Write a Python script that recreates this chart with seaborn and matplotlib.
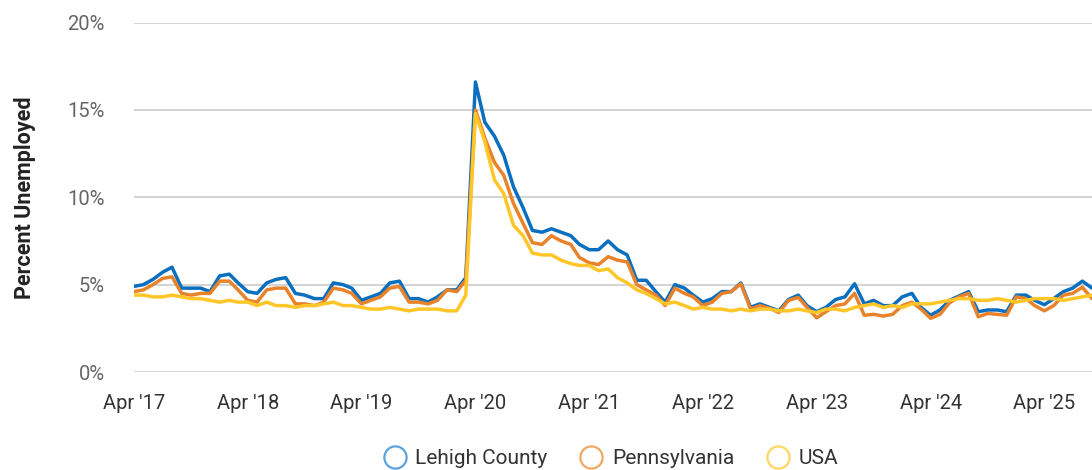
import pandas as pd
import matplotlib
matplotlib.use('Agg')
import matplotlib.pyplot as plt
import matplotlib.dates as mdates
from matplotlib.lines import Line2D
import seaborn as sns

# Monthly unemployment rate (%), Apr 2017 - Sep 2025
months = pd.date_range('2017-04-01', '2025-09-01', freq='MS')

lehigh = [
    4.9, 5.0, 5.3, 5.7, 6.0, 4.8, 4.8, 4.8, 4.6,
    5.5, 5.6, 5.1, 4.6, 4.5, 5.1, 5.3, 5.4, 4.5, 4.4, 4.2, 4.2,
    5.1, 5.0, 4.8, 4.1, 4.3, 4.5, 5.1, 5.2, 4.2, 4.2, 4.0, 4.3,
    4.7, 4.7, 5.4, 16.6, 14.3, 13.5, 12.4, 10.6, 9.4, 8.1, 8.0, 8.2,
    8.0, 7.8, 7.3, 7.0, 7.0, 7.5, 7.0, 6.7, 5.25, 5.25, 4.6, 4.0,
    5.0, 4.8, 4.4, 4.0, 4.2, 4.6, 4.6, 5.1, 3.7, 3.9, 3.7, 3.5,
    4.15, 4.4, 3.8, 3.45, 3.7, 4.15, 4.3, 5.05, 3.9, 4.1, 3.8, 3.8,
    4.3, 4.5, 3.7, 3.25, 3.55, 4.1, 4.35, 4.6, 3.45, 3.55, 3.55, 3.45,
    4.4, 4.4, 4.1, 3.85, 4.2, 4.6, 4.8, 5.2, 4.8,
]

pennsylvania = [
    4.6, 4.7, 5.0, 5.35, 5.45, 4.5, 4.4, 4.5, 4.5,
    5.2, 5.2, 4.7, 4.1, 4.0, 4.7, 4.8, 4.8, 3.9, 3.9, 3.8, 4.0,
    4.8, 4.7, 4.5, 3.9, 4.1, 4.3, 4.8, 4.9, 4.0, 4.0, 3.9, 4.1,
    4.7, 4.6, 5.25, 15.0, 13.4, 12.0, 11.25, 9.65, 8.5, 7.4, 7.3, 7.8,
    7.5, 7.3, 6.55, 6.25, 6.15, 6.6, 6.4, 6.3, 5.0, 4.7, 4.4, 3.8,
    4.8, 4.5, 4.3, 3.8, 4.0, 4.5, 4.6, 5.05, 3.6, 3.8, 3.65, 3.4,
    4.1, 4.27, 3.7, 3.1, 3.45, 3.8, 3.9, 4.5, 3.25, 3.3, 3.2, 3.3,
    3.8, 4.0, 3.6, 3.07, 3.3, 3.96, 4.3, 4.5, 3.16, 3.35, 3.3, 3.25,
    4.3, 4.2, 3.8, 3.5, 3.8, 4.4, 4.5, 4.85, 4.2,
]

usa = [
    4.4, 4.4, 4.3, 4.3, 4.4, 4.3, 4.2, 4.2, 4.1,
    4.0, 4.1, 4.0, 4.0, 3.8, 4.0, 3.8, 3.8, 3.7, 3.8, 3.8, 3.9,
    4.0, 3.8, 3.8, 3.7, 3.6, 3.6, 3.7, 3.6, 3.5, 3.6, 3.6, 3.6,
    3.5, 3.5, 4.4, 14.8, 13.2, 11.0, 10.2, 8.4, 7.8, 6.8, 6.7, 6.7,
    6.4, 6.2, 6.1, 6.1, 5.8, 5.9, 5.4, 5.1, 4.7, 4.5, 4.2, 3.9,
    4.0, 3.8, 3.6, 3.7, 3.6, 3.6, 3.5, 3.6, 3.5, 3.6, 3.6, 3.5,
    3.5, 3.6, 3.5, 3.4, 3.6, 3.6, 3.5, 3.7, 3.8, 3.9, 3.7, 3.8,
    3.7, 3.9, 3.9, 3.9, 4.0, 4.1, 4.2, 4.2, 4.1, 4.1, 4.2, 4.1,
    4.0, 4.1, 4.2, 4.2, 4.2, 4.1, 4.2, 4.3, 4.4,
]

series_names = ['Lehigh County', 'Pennsylvania', 'USA']
line_colors = ['#0a6fbe', '#e8832b', '#ffc629']
legend_colors = ['#5aa3dd', '#f0a865', '#ffd760']

df = pd.DataFrame({'month': months, 'Lehigh County': lehigh,
                   'Pennsylvania': pennsylvania, 'USA': usa})
long_df = df.melt(id_vars='month', var_name='area', value_name='rate')

sns.set_style('white')
plt.rcParams['font.family'] = ['Roboto', 'DejaVu Sans']

fig = plt.figure(figsize=(10.92, 4.70), dpi=100)
ax = fig.add_axes([0.1227, 0.2085, 0.8773, 0.7435])

sns.lineplot(data=long_df, x='month', y='rate', hue='area',
             hue_order=series_names, palette=line_colors,
             linewidth=2.5, legend=False, ax=ax)

ax.set_ylim(0, 20)
ax.set_yticks([0, 5, 10, 15, 20])
ax.set_yticklabels([f'{v}%' for v in [0, 5, 10, 15, 20]])
ax.set_xlim(months[0], months[-1])
ax.xaxis.set_major_locator(mdates.MonthLocator(bymonth=4))
ax.xaxis.set_major_formatter(mdates.DateFormatter("Apr '%y"))

ax.grid(True, axis='y', color='#cccccc', linewidth=1.2)
ax.grid(False, axis='x')
for s in ax.spines.values():
    s.set_visible(False)

ax.tick_params(axis='y', length=0, pad=21, labelsize=14.5, labelcolor='#666666')
ax.tick_params(axis='x', length=0, pad=16, labelsize=14.5, labelcolor='#333333')

ax.set_xlabel('')
ax.set_ylabel('Percent Unemployed', fontsize=15.5, fontweight='bold', color='#222222')
ax.yaxis.set_label_coords(-0.102, 0.5)

handles = [Line2D([], [], linestyle='none', marker='o', markersize=16,
                  markerfacecolor='none', markeredgecolor=c, markeredgewidth=1.6)
           for c in legend_colors]
fig.legend(handles, series_names, loc='center', bbox_to_anchor=(0.559, 0.024),
           ncol=3, frameon=False, fontsize=15, handlelength=1.2,
           handletextpad=0.4, columnspacing=1.5, labelcolor='#333333')

fig.savefig('out.png', dpi=100)
